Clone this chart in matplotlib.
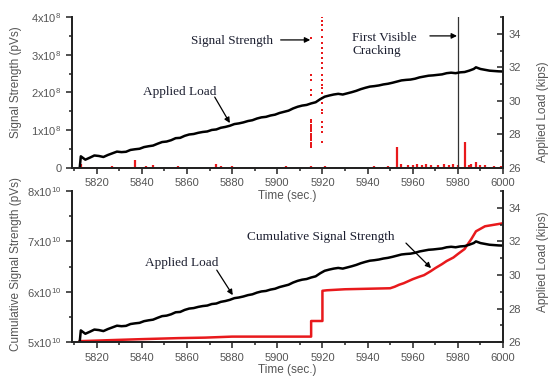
import matplotlib
matplotlib.use("Agg")
import matplotlib.pyplot as plt
from matplotlib.ticker import MultipleLocator, FixedLocator

# applied load (kips), same record in both panels
load_t = [5812.5, 5813, 5815, 5817, 5819, 5821, 5823, 5825, 5827, 5829, 5831, 5833, 5835,
          5837, 5839, 5841, 5843, 5845, 5847, 5849, 5851, 5853, 5855, 5857, 5859, 5861,
          5863, 5865, 5867, 5869, 5871, 5873, 5875, 5877, 5879, 5881, 5883, 5885, 5887,
          5889, 5891, 5893, 5895, 5897, 5899, 5901, 5903, 5905, 5907, 5909, 5911, 5913,
          5915, 5917, 5919, 5921, 5923, 5925, 5927, 5929, 5931, 5933, 5935, 5937, 5939,
          5941, 5943, 5945, 5947, 5949, 5951, 5953, 5955, 5957, 5959, 5961, 5963, 5965,
          5967, 5969, 5971, 5973, 5975, 5977, 5979, 5981, 5983, 5985, 5987, 5988, 5990,
          5992, 5994, 5996, 5998, 6000]
load_k = [26.0, 26.70, 26.50, 26.62, 26.75, 26.72, 26.66, 26.78, 26.88, 26.98, 26.95, 26.97,
          27.08, 27.12, 27.15, 27.25, 27.30, 27.34, 27.45, 27.55, 27.58, 27.66, 27.78, 27.80,
          27.92, 28.00, 28.03, 28.10, 28.15, 28.18, 28.27, 28.30, 28.40, 28.45, 28.52, 28.62,
          28.66, 28.72, 28.80, 28.85, 28.95, 29.02, 29.05, 29.13, 29.18, 29.28, 29.35, 29.42,
          29.55, 29.65, 29.72, 29.76, 29.85, 29.92, 30.10, 30.25, 30.32, 30.38, 30.42, 30.38,
          30.45, 30.52, 30.60, 30.70, 30.78, 30.85, 30.88, 30.92, 30.98, 31.02, 31.08, 31.15,
          31.22, 31.25, 31.27, 31.32, 31.40, 31.45, 31.50, 31.52, 31.55, 31.58, 31.65, 31.68,
          31.65, 31.70, 31.72, 31.80, 31.90, 32.00, 31.90, 31.85, 31.80, 31.78, 31.76, 31.75]

# signal strength spikes (x1e8 pVs)
spike_t = [5813, 5820, 5827, 5831, 5837, 5842, 5845, 5850, 5856, 5866, 5873, 5875, 5880,
           5888, 5896, 5904, 5915, 5921, 5926, 5935, 5943, 5949, 5953, 5955, 5958, 5960,
           5962, 5964, 5966, 5968, 5971, 5974, 5976, 5978, 5980, 5983, 5985, 5986, 5988,
           5990, 5992, 5996, 5999]
spike_v = [0.12, 0.04, 0.05, 0.04, 0.22, 0.05, 0.08, 0.04, 0.05, 0.04, 0.12, 0.06, 0.05,
           0.04, 0.04, 0.05, 0.06, 0.05, 0.04, 0.04, 0.05, 0.05, 0.55, 0.12, 0.07, 0.08,
           0.10, 0.09, 0.12, 0.08, 0.07, 0.12, 0.09, 0.10, 0.08, 0.68, 0.08, 0.10, 0.15,
           0.07, 0.08, 0.06, 0.05]
base_t = [5812.5, 6000]
base_v = [0.01, 0.01]

# off-scale bursts rendered as dots (x1e8 pVs)
burst1_t = 5915
burst1_v = [0.55, 0.61, 0.67, 0.73, 0.79, 0.85, 0.91, 0.97, 1.03, 1.09, 1.15, 1.21,
            1.27, 1.93, 2.07, 2.33, 2.46, 3.44]
burst2_t = 5920
burst2_v = [0.69, 0.95, 1.09, 1.22, 1.45, 1.54, 1.72, 1.85, 1.98, 2.11, 2.19, 2.32, 2.45,
            2.65, 2.78, 2.92, 3.05, 3.18, 3.31, 3.47, 3.66, 3.79, 3.90, 4.00]

# cumulative signal strength (x1e10 pVs)
cum_t = [5812.5, 5826, 5840, 5856, 5868, 5880, 5915, 5915, 5920, 5920, 5922, 5930, 5940,
         5950, 5952, 5954, 5956, 5960, 5963, 5965, 5968, 5970, 5973, 5975, 5978, 5980,
         5983, 5984, 5986, 5988, 5990, 5992, 5996, 6000]
cum_v = [5.02, 5.04, 5.06, 5.08, 5.09, 5.11, 5.11, 5.42, 5.42, 6.02, 6.03, 6.05, 6.06,
         6.07, 6.10, 6.14, 6.17, 6.25, 6.30, 6.33, 6.41, 6.47, 6.55, 6.61, 6.68, 6.75,
         6.85, 6.92, 7.05, 7.20, 7.25, 7.30, 7.33, 7.36]

x_ticks = [5820, 5840, 5860, 5880, 5900, 5920, 5940, 5960, 5980, 6000]

RED = "#e8191c"
GREY = "#555555"
INK = "#1c1f30"
sans = "Liberation Sans"
serif = "Liberation Serif"

plt.rcParams["font.family"] = sans
plt.rcParams["mathtext.fontset"] = "custom"
plt.rcParams["mathtext.rm"] = sans

fig = plt.figure(figsize=(5.48, 3.76), dpi=100)
ax1 = fig.add_axes([0.131, 0.553, 0.787, 0.402])
ax2 = fig.add_axes([0.131, 0.090, 0.787, 0.402])
ax2.patch.set_visible(False)


def style(ax, axr, yticks, ylabels):
    ax.set_xlim(5809, 6000)
    ax.xaxis.set_major_locator(FixedLocator(x_ticks))
    ax.xaxis.set_minor_locator(MultipleLocator(10))
    ax.set_xticklabels([str(t) for t in x_ticks])
    ax.set_yticks(yticks)
    ax.set_yticklabels(ylabels)
    axr.set_ylim(26, 35)
    axr.yaxis.set_major_locator(FixedLocator([26, 28, 30, 32, 34]))
    axr.yaxis.set_minor_locator(MultipleLocator(1))
    for a in (ax, axr):
        a.spines["top"].set_visible(False)
        for s in ("left", "right", "bottom"):
            a.spines[s].set_color("#222222")
            a.spines[s].set_linewidth(1.3)
    ax.tick_params(which="both", direction="out", colors="#222222", labelcolor=GREY,
                   labelsize=8, width=1.1)
    ax.tick_params(which="major", length=4)
    ax.tick_params(which="minor", length=2.5)
    axr.tick_params(which="both", direction="in", colors="#222222", labelcolor=GREY,
                    labelsize=8, width=1.1, pad=4)
    axr.tick_params(which="major", length=4)
    axr.tick_params(which="minor", length=2.5)
    ax.set_xlabel("Time (sec.)", color=GREY, fontsize=8.5, labelpad=1)
    axr.set_ylabel("Applied Load (kips)", color=GREY, fontsize=8.5)


def arrow(ax, tail, tip):
    ax.annotate("", xy=tip, xytext=tail,
                arrowprops=dict(arrowstyle="-|>", color="black", lw=0.9,
                                mutation_scale=8, shrinkA=0, shrinkB=0))


# ---- top panel: signal strength
ax1.vlines(spike_t, 0, [v * 1e8 for v in spike_v], color=RED, lw=1.6)
ax1.plot(base_t, [v * 1e8 for v in base_v], color=RED, lw=2)
ax1.scatter([burst1_t] * len(burst1_v), [v * 1e8 for v in burst1_v], s=2.5,
            color=RED, marker="s", lw=0)
ax1.scatter([burst2_t] * len(burst2_v), [v * 1e8 for v in burst2_v], s=2.5,
            color=RED, marker="s", lw=0)
ax1.set_ylim(0, 4e8)
ax1.axvline(5980, color="#333333", lw=0.9)
ax1.yaxis.set_minor_locator(MultipleLocator(0.5e8))
ax1r = ax1.twinx()
ax1r.plot(load_t, load_k, color="black", lw=1.8)
style(ax1, ax1r, [0, 1e8, 2e8, 3e8, 4e8],
      ["0"] + [r"%dx10$^{8}$" % i for i in range(1, 5)])
ax1.set_ylabel("Signal Strength (pVs)", color=GREY, fontsize=8.5)
ax1.yaxis.set_label_coords(-0.116, 0.57)
ax1r.yaxis.set_label_coords(1.079, 0.37)

ax1r.text(5856.8, 30.53, "Applied Load", family=serif, fontsize=9.5, color=INK,
          ha="center", va="center")
arrow(ax1r, (5872.3, 30.23), (5879.0, 28.68))
ax1r.text(5879.9, 33.59, "Signal Strength", family=serif, fontsize=9.5, color=INK,
          ha="center", va="center")
arrow(ax1r, (5901.5, 33.63), (5914.6, 33.63))
ax1r.text(5933.1, 33.36, "First Visible\nCracking", family=serif, fontsize=9.5,
          color=INK, ha="left", va="center", linespacing=1.15)
arrow(ax1r, (5967.6, 33.87), (5979.6, 33.87))

# ---- bottom panel: cumulative signal strength
ax2.plot(cum_t, [v * 1e10 for v in cum_v], color=RED, lw=1.8)
ax2.set_ylim(5e10, 8e10)
ax2.yaxis.set_minor_locator(MultipleLocator(0.5e10))
ax2r = ax2.twinx()
ax2r.plot(load_t, load_k, color="black", lw=1.8)
style(ax2, ax2r, [5e10, 6e10, 7e10, 8e10],
      [r"%dx10$^{10}$" % i for i in range(5, 9)])
ax2.set_ylabel("Cumulative Signal Strength (pVs)", color=GREY, fontsize=8.5)
ax2.yaxis.set_label_coords(-0.116, 0.52)
ax2r.yaxis.set_label_coords(1.079, 0.53)

ax2r.text(5857.7, 30.71, "Applied Load", family=serif, fontsize=9.5, color=INK,
          ha="center", va="center")
arrow(ax2r, (5873.2, 30.29), (5880.3, 28.80))
ax2r.text(5919.1, 32.26, "Cumulative Signal Strength", family=serif, fontsize=9.5,
          color=INK, ha="center", va="center")
arrow(ax2r, (5957.0, 31.90), (5968.1, 30.41))

fig.savefig("out.png", dpi=100)
